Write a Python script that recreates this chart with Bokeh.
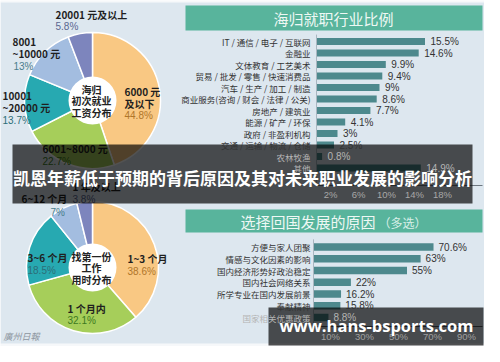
import numpy as np
from bokeh.plotting import figure
from bokeh.models import Range1d
from bokeh.core.properties import value
from bokeh.embed import file_html
from bokeh.resources import INLINE

# ---------------- data ----------------
salary_labels = ["6000 元\n及以下", "6001~8000 元", "10001\n~20000 元", "8001\n~10000 元", "20001 元及以上"]
salary_share = [44.8, 22.7, 13.7, 13.0, 5.8]
salary_center = ["海归", "初次就业", "工资分布"]

time_labels = ["1~3 个月", "1 个月内", "3~6 个月", "6~12 个月", "1 年及以上"]
time_share = [38.6, 32.1, 18.5, 7.0, 3.8]
time_center = ["找第一份", "工作", "用时分布"]

industry = ["IT / 通信 / 电子 / 互联网", "金融业", "文体教育 / 工艺美术", "贸易 / 批发 / 零售 / 快速消费品",
            "汽车 / 生产 / 加工 / 制造", "商业服务(咨询 / 财会 / 法律 / 公关)", "房地产 / 建筑业",
            "能源 / 矿产 / 环保", "政府 / 非盈利机构", "交通 / 运输 / 物流 / 仓储", "农林牧渔", "其他"]
industry_share = [15.5, 14.6, 9.9, 9.4, 9.0, 8.6, 7.7, 4.1, 3.0, 2.5, 0.8, 14.9]
industry_ticks = [2, 6, 10, 14, 18]

reason = ["方便与家人团聚", "情感与文化因素的影响", "国内经济形势好政治稳定", "国内社会网络关系",
          "所学专业在国内发展前景", "奉献精神", "国家相关优惠政策"]
reason_share = [70.6, 63.0, 55.0, 22.0, 16.2, 15.8, 8.8]
reason_ticks = [10, 30, 50, 70, 90]

title_text = "凯恩年薪低于预期的背后原因及其对未来职业发展的影响分析"
header1 = "海归就职行业比例"
header2 = "选择回国发展的原因"
header2_note = "（多选）"
watermark = "www.hans-bsports.com"
signature = "廣州日報"

# ---------------- style / layout ----------------
FIG_W, FIG_H = 484, 346
X0, Y0 = 8, 8
PANEL = "#dde7ef"
HEAD = "#58b49c"
BAR = "#4d898d"
PIE_COLORS = ["#f9c883", "#a6ce5a", "#27a9b1", "#a3bde0", "#7d85bd"]
PCT_COLORS = ["#b0762a", "#3d7a1f", "#2c6e78", "#4a7d8c", "#5a6690"]
CJK = value("Noto Sans CJK SC")
LAT = value("Liberation Sans")


def Y(y_img):
    return 362 - y_img


def xrange_for(zero_px, px_per_unit):
    s = (X0 - zero_px) / px_per_unit
    return Range1d(s, s + FIG_W / px_per_unit)


def yrange_for(first_px, pitch):
    bottom = (Y0 + FIG_H - first_px) / pitch
    top = (Y0 - first_px) / pitch
    return Range1d(bottom, top)


p = figure(width=FIG_W, height=FIG_H, x_range=Range1d(8, 492), y_range=Range1d(8, 354),
           output_backend="svg", toolbar_location=None, min_border=0,
           x_axis_location=None, y_axis_location=None)
p.grid.visible = False
p.outline_line_color = None
p.background_fill_color = "#f6f8fa"
p.border_fill_color = "#f6f8fa"

p.extra_x_ranges = {"ind_x": xrange_for(324, 7.0), "rsn_x": xrange_for(321, 1.7)}
p.extra_y_ranges = {"ind_y": yrange_for(49, 11.5), "rsn_y": yrange_for(254.5, 11.75)}

# panel
p.quad(left=8, right=495, top=Y(10), bottom=Y(351), fill_color=PANEL, line_color=None)

# headers
p.quad(left=193, right=490, top=Y(13), bottom=Y(38), fill_color=HEAD, line_color=None)
p.text(x=[341], y=[Y(25.5)], text=[header1], text_font=CJK, text_font_size="15px",
       text_color="#eef8f4", text_align="center", text_baseline="middle")
p.quad(left=193, right=490, top=Y(217), bottom=Y(240), fill_color=HEAD, line_color=None)
p.text(x=[248], y=[Y(229)], text=[header2], text_font=CJK, text_font_size="15px",
       text_color="#eef8f4", text_align="left", text_baseline="middle")
p.text(x=[386], y=[Y(229.5)], text=[header2_note], text_font=CJK, text_font_size="12px",
       text_color="#d8efe8", text_align="left", text_baseline="middle")


# pies
def draw_pie(cx, cy, r, shares, center_lines, labels, label_pos, pct_pos):
    frac = np.array(shares) / np.sum(shares)
    cum = np.concatenate([[0.0], np.cumsum(frac)])
    start = np.pi / 2 - cum[1:] * 2 * np.pi
    end = np.pi / 2 - cum[:-1] * 2 * np.pi
    p.wedge(x=cx, y=Y(cy), radius=r, start_angle=start, end_angle=end,
            fill_color=PIE_COLORS, line_color="white", line_width=1.5)
    p.circle(x=[cx], y=[Y(cy)], radius=24, fill_color="white", line_color=None)
    for k, line in enumerate(center_lines):
        p.text(x=[cx - 1], y=[Y(cy - 11.5 + 11.5 * k)], text=[line], text_font=CJK,
               text_font_style="bold", text_font_size="10px", text_color="#222222",
               text_align="center", text_baseline="middle")
    for i, lab in enumerate(labels):
        lx, ly = label_pos[i]
        for k, line in enumerate(lab.split("\n")):
            p.text(x=[lx], y=[Y(ly + 12.3 * k)], text=[line], text_font=CJK,
                   text_font_style="bold", text_font_size="10px", text_color="#1f1f1f",
                   text_align="left", text_baseline="middle")
        px_, py_ = pct_pos[i]
        p.text(x=[px_], y=[Y(py_)], text=[f"{shares[i]:g}%"], text_font=LAT,
               text_font_size="10px", text_color=PCT_COLORS[i],
               text_align="left", text_baseline="middle")


draw_pie(100, 108, 68, salary_share, salary_center, salary_labels,
         [(132, 99), (50, 156), (10, 103), (20, 49), (63, 22)],
         [(132, 123), (50, 168.5), (10, 127.5), (21, 74), (63, 33.5)])
draw_pie(100, 275, 66, time_share, time_center, time_labels,
         [(135, 266), (75, 316), (35, 265), (29, 206), (80, 194)],
         [(135, 278.5), (75, 328), (35, 277.5), (58, 220), (80, 206.5)])

# bars
ind_idx = list(range(len(industry)))
rsn_idx = list(range(len(reason)))
p.hbar(y=ind_idx, left=0, right=industry_share, height=0.62, fill_color=BAR, line_color=None,
       x_range_name="ind_x", y_range_name="ind_y")
p.hbar(y=rsn_idx, left=0, right=reason_share, height=0.62, fill_color=BAR, line_color=None,
       x_range_name="rsn_x", y_range_name="rsn_y")
# axis lines
p.segment(x0=[0], x1=[0], y0=[-0.6], y1=[12.5], line_color="#a9b6c0", line_width=1,
          x_range_name="ind_x", y_range_name="ind_y")
p.segment(x0=[0], x1=[0], y0=[-0.65], y1=[6.8], line_color="#a9b6c0", line_width=1,
          x_range_name="rsn_x", y_range_name="rsn_y")
p.segment(x0=[324], x1=[490], y0=[Y(193)], y1=[Y(193)], line_color="#6d7780", line_width=1)
p.segment(x0=[321], x1=[490], y0=[Y(334)], y1=[Y(334)], line_color="#555c62", line_width=1)

# banners
p.quad(left=20, right=480, top=Y(152), bottom=Y(211), fill_color="black", fill_alpha=0.68, line_color=None)
p.quad(left=276, right=491, top=Y(315), bottom=Y(353), fill_color="black", fill_alpha=0.68, line_color=None)

# chart labels (lighter where they sit under a banner)
ind_y_img = [49 + 11.5 * i for i in ind_idx]
rsn_y_img = [254.5 + 11.75 * i for i in rsn_idx]
ind_col = ["#b4b4b4" if 156 < y < 211 else "#333333" for y in ind_y_img]
rsn_col = ["#b4b4b4" if 316 < y < 353 else "#333333" for y in rsn_y_img]

p.text(x=0, y=ind_idx, text=industry, x_offset=-6, text_align="right", text_baseline="middle",
       text_font=CJK, text_font_size="8.5px", text_color=ind_col,
       x_range_name="ind_x", y_range_name="ind_y")
p.text(x=industry_share, y=ind_idx, text=[f"{v:g}%" for v in industry_share], x_offset=5.5,
       text_align="left", text_baseline="middle", text_font=LAT, text_font_size="10px",
       text_color=ind_col, x_range_name="ind_x", y_range_name="ind_y")
p.text(x=0, y=rsn_idx, text=reason, x_offset=-3, text_align="right", text_baseline="middle",
       text_font=CJK, text_font_size="8.5px", text_color=rsn_col,
       x_range_name="rsn_x", y_range_name="rsn_y")
p.text(x=reason_share, y=rsn_idx, text=[f"{v:g}%" for v in reason_share], x_offset=5,
       text_align="left", text_baseline="middle", text_font=LAT, text_font_size="10px",
       text_color=rsn_col, x_range_name="rsn_x", y_range_name="rsn_y")

# ticks
p.text(x=industry_ticks, y=Y(202), text=[f"{t}%" for t in industry_ticks], text_align="center",
       text_baseline="middle", text_font=LAT, text_font_size="9.5px", text_color="#a8a8a8",
       x_range_name="ind_x")
p.text(x=reason_ticks, y=Y(343.5), text=[f"{t}%" for t in reason_ticks], text_align="center",
       text_baseline="middle", text_font=LAT, text_font_size="9.5px", text_color="#a0a0a0",
       x_range_name="rsn_x")

# title + watermark texts
p.text(x=[250], y=[Y(185)], text=[title_text], text_font=CJK, text_font_style="bold",
       text_font_size="17px", text_color="white", text_align="center", text_baseline="middle")
p.text(x=[384], y=[Y(333)], text=[watermark], text_font=value("Open Sans"), text_font_style="bold",
       text_font_size="16.5px", text_color="white", text_align="center", text_baseline="middle")
p.text(x=[11], y=[Y(344)], text=[signature], text_font=CJK, text_font_style="italic",
       text_font_size="9px", text_color="#8d96a0", text_align="left", text_baseline="middle")

open("out.html", "w").write(file_html(p, INLINE))
